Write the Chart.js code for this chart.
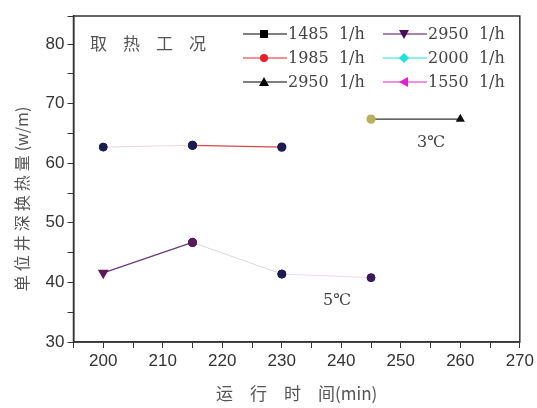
<!DOCTYPE html>
<html>
<head>
<meta charset="utf-8">
<script src="https://cdn.jsdelivr.net/npm/chart.js@4.4.1/dist/chart.umd.min.js"></script>
<style>
  html, body { margin: 0; padding: 0; background: #fff; }
  #wrap { width: 537px; height: 408px; position: relative; }
</style>
</head>
<body>
<div id="wrap"><canvas id="c"></canvas></div>
<script>
// 系列名
const seriesNames = ["1485  1/h", "1985  1/h", "2950  1/h", "2950  1/h", "2000  1/h", "1550  1/h"];
// 各系列の時間 (min)
const x1485 = [200, 215];
const x1985 = [215, 230];
const x2950a = [245, 260];
const x2950b = [200, 215];
const x2000 = [215, 230];
const x1550 = [230, 245];
// 各系列の換熱量 (w/m)
const y1485 = [62.7, 63.0];
const y1985 = [63.0, 62.7];
const y2950a = [67.4, 67.4];
const y2950b = [41.6, 46.7];
const y2000 = [46.7, 41.4];
const y1550 = [41.4, 40.8];

const xs = [x1485, x1985, x2950a, x2950b, x2000, x1550];
const ys = [y1485, y1985, y2950a, y2950b, y2000, y1550];

// 凡例の色と形
const legendColors = ["#000000", "#e8202a", "#000000", "#4b0a5a", "#1fe0e0", "#e020d0"];
const legendShapes = ["rect", "circle", "triangle", "triangleDown", "diamond", "triangleLeft"];
// 図中の線・点の色
const lineColors = ["#e6d6dc", "#d84a4a", "#333333", "#6a3a7a", "#d8d8dc", "#f0d8f0"];
const pointColors = ["#1c1c50", "#1c1c50", "#b8b060", "#5a1a5a", "#1c1c50", "#3a1a5a"];

const datasets = seriesNames.map((name, i) => ({
  label: name,
  data: xs[i].map((x, j) => ({ x: x, y: ys[i][j] })),
  borderColor: lineColors[i],
  borderWidth: i === 1 || i === 2 || i === 3 ? 1.3 : 1,
  backgroundColor: pointColors[i],
  pointBackgroundColor: pointColors[i],
  pointBorderColor: pointColors[i],
  pointRadius: 4,
  pointStyle: "circle",
}));
// 黒三角 (260) は三角形
datasets[2].pointStyle = ["circle", "triangle"];
datasets[2].pointBackgroundColor = ["#b8b060", "#111111"];
datasets[2].pointBorderColor = ["#b8b060", "#111111"];
datasets[3].pointStyle = ["triangle", "circle"];
datasets[3].pointRotation = [180, 0];
datasets[3].pointRadius = [5, 4];

// 凡例マーカー
function marker(ctx, shape, x, y, r) {
  ctx.beginPath();
  if (shape === "rect") {
    ctx.rect(x - r, y - r, 2 * r, 2 * r);
  } else if (shape === "circle") {
    ctx.arc(x, y, r, 0, Math.PI * 2);
  } else if (shape === "triangle") {
    ctx.moveTo(x, y - r - 1); ctx.lineTo(x + r + 1, y + r); ctx.lineTo(x - r - 1, y + r);
  } else if (shape === "triangleDown") {
    ctx.moveTo(x, y + r + 1); ctx.lineTo(x + r + 1, y - r); ctx.lineTo(x - r - 1, y - r);
  } else if (shape === "diamond") {
    ctx.moveTo(x, y - r - 1); ctx.lineTo(x + r + 1, y); ctx.lineTo(x, y + r + 1); ctx.lineTo(x - r - 1, y);
  } else if (shape === "triangleLeft") {
    ctx.moveTo(x - r - 1, y); ctx.lineTo(x + r, y - r - 1); ctx.lineTo(x + r, y + r + 1);
  }
  ctx.closePath();
  ctx.fill();
}

// 枠・凡例・注記を描くプラグイン
const decoPlugin = {
  id: "deco",
  afterDraw(chart) {
    const ctx = chart.ctx;
    const a = chart.chartArea;
    ctx.save();
    ctx.strokeStyle = "#333";
    ctx.lineWidth = 1.5;
    ctx.strokeRect(a.left, a.top, a.right - a.left, a.bottom - a.top);

    // 注記
    ctx.fillStyle = "#555";
    ctx.textBaseline = "middle";
    ctx.font = "17px 'Noto Sans CJK SC'";
    const title = ["取", "热", "工", "况"];
    title.forEach((t, i) => ctx.fillText(t, 90 + i * 33, 44));
    ctx.font = "16px 'DejaVu Serif', 'Liberation Serif', serif";
    ctx.fillStyle = "#444";
    ctx.fillText("3℃", 417, 143);
    ctx.fillText("5℃", 323, 301);

    // 凡例
    const cols = [243, 383];
    const rows = [34, 58, 82];
    ctx.font = "16px 'DejaVu Serif', serif";
    seriesNames.forEach((name, i) => {
      const cx = cols[Math.floor(i / 3)];
      const cy = rows[i % 3];
      ctx.strokeStyle = legendColors[i];
      ctx.lineWidth = 1;
      ctx.beginPath();
      ctx.moveTo(cx, cy);
      ctx.lineTo(cx + 44, cy);
      ctx.stroke();
      ctx.fillStyle = legendColors[i];
      marker(ctx, legendShapes[i], cx + 21, cy, 4);
      ctx.fillStyle = "#444";
      ctx.fillText(name, cx + 45, cy + 1);
    });
    ctx.restore();
  },
};

new Chart(document.getElementById("c"), {
  type: "line",
  data: { datasets: datasets },
  options: {
    responsive: true,
    maintainAspectRatio: false,
    animation: false,
    layout: { padding: { top: 16, right: 17, left: 8, bottom: 0 } },
    plugins: {
      legend: { display: false },
      tooltip: { enabled: false },
    },
    scales: {
      x: {
        type: "linear",
        min: 195,
        max: 270,
        afterFit: (s) => { s.height = 66; },
        border: { color: "#333", width: 1.5 },
        grid: { drawOnChartArea: false, tickLength: 6, color: "#333", tickColor: "#333" },
        ticks: {
          stepSize: 5,
          autoSkip: false,
          maxRotation: 0,
          color: "#333",
          padding: 3,
          font: { family: "'Liberation Sans', Arial, sans-serif", size: 17 },
          callback: (v) => (v % 10 === 0 ? v : ""),
        },
        title: {
          display: true,
          text: "运\u3000行\u3000时\u3000间(min)",
          color: "#555",
          padding: { top: 0 },
          font: { family: "'Noto Sans CJK SC'", size: 17 },
        },
      },
      y: {
        min: 30,
        max: 84.7,
        afterFit: (s) => { s.width = 65.5; },
        border: { color: "#333", width: 1.5 },
        grid: { drawOnChartArea: false, tickLength: 6, color: "#333", tickColor: "#333" },
        ticks: {
          stepSize: 5,
          autoSkip: false,
          color: "#333",
          padding: 3,
          font: { family: "'Liberation Sans', Arial, sans-serif", size: 17 },
          callback: (v) => (v % 10 === 0 ? v : ""),
        },
        title: {
          display: true,
          text: "单\u2005位\u2005井\u2005深\u2005换\u2005热\u2005量\u2005(w/m)\u3000\u3000\u2002",
          color: "#555",
          padding: { bottom: 0 },
          font: { family: "'Noto Sans CJK SC'", size: 16 },
        },
      },
    },
  },
  plugins: [decoPlugin],
});
</script>
</body>
</html>
